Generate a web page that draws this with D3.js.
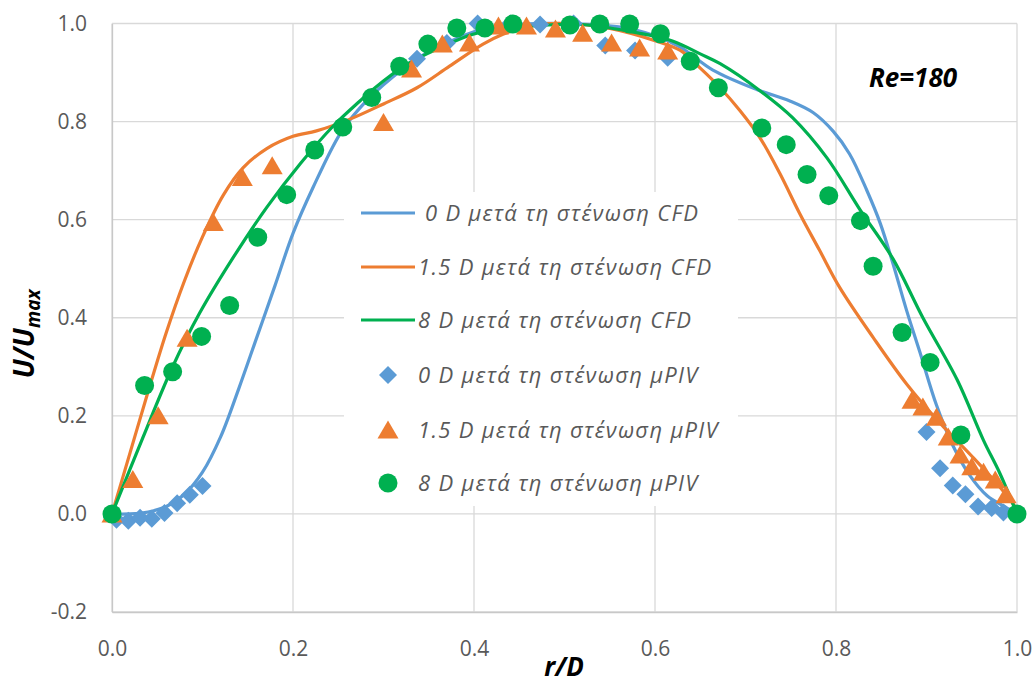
<!DOCTYPE html>
<html>
<head>
<meta charset="utf-8">
<script src="https://cdn.jsdelivr.net/npm/d3@7"></script>
<style>
  body { margin: 0; background: #fff; }
  svg text { font-family: "Open Sans", "Noto Sans", sans-serif; }
</style>
</head>
<body>
<div id="chart"></div>
<script>
// velocity profiles U/Umax vs r/D, Re=180

var cfd0 = [[0,0],[0.02,0.0],[0.04,0.004],[0.06,0.015],[0.08,0.04],[0.1,0.085],[0.12,0.157],
  [0.14,0.255],[0.16,0.36],[0.18,0.465],[0.2,0.572],[0.222,0.665],[0.252,0.775],[0.274,0.828],[0.3,0.875],
  [0.337,0.928],[0.37,0.96],[0.4,0.983],[0.44,0.997],[0.5,1.0],[0.56,0.993],[0.6,0.975],[0.628,0.952],
  [0.664,0.905],[0.713,0.865],[0.749,0.842],[0.775,0.818],[0.797,0.78],[0.815,0.734],[0.834,0.66],
  [0.849,0.592],[0.863,0.51],[0.878,0.415],[0.893,0.328],[0.911,0.222],[0.929,0.14],[0.948,0.078],
  [0.967,0.037],[0.989,0.012],[1.0,0.0]];

var cfd15 = [[0,0],[0.02,0.125],[0.04,0.25],[0.06,0.37],[0.08,0.475],[0.1,0.565],
  [0.123,0.65],[0.145,0.706],[0.171,0.745],[0.2,0.77],[0.226,0.781],[0.263,0.805],[0.3,0.836],[0.337,0.869],
  [0.373,0.913],[0.41,0.958],[0.432,0.978],[0.46,0.995],[0.5,1.0],[0.55,0.99],[0.6,0.965],[0.628,0.945],
  [0.65,0.909],[0.672,0.869],[0.694,0.822],[0.716,0.767],[0.738,0.694],[0.76,0.612],[0.782,0.537],
  [0.804,0.462],[0.841,0.36],[0.878,0.265],[0.915,0.185],[0.951,0.116],[0.981,0.055],[1.0,0.01]];

var cfd8 = [[0,0],[0.034,0.155],[0.067,0.3],[0.097,0.41],[0.134,0.523],[0.171,0.625],[0.208,0.714],
  [0.244,0.79],[0.274,0.842],[0.288,0.865],[0.326,0.917],[0.362,0.95],[0.399,0.978],[0.436,0.991],
  [0.473,0.996],[0.52,0.998],[0.583,0.98],[0.62,0.964],[0.65,0.938],[0.672,0.918],[0.716,0.863],
  [0.752,0.808],[0.79,0.726],[0.827,0.619],[0.863,0.52],[0.896,0.4],[0.934,0.273],[0.963,0.15],
  [0.981,0.083],[1.0,0.0]];

var piv0 = [[0.005,-0.012],[0.018,-0.014],[0.031,-0.008],[0.044,-0.01],[0.058,0.002],[0.072,0.022],
  [0.086,0.039],[0.1,0.057],
  [0.337,0.928],[0.37,0.96],[0.404,1.0],[0.44,1.0],[0.473,0.998],[0.51,1.0],[0.545,0.955],[0.578,0.945],
  [0.614,0.93],
  [0.9,0.167],[0.915,0.093],[0.929,0.058],[0.943,0.04],[0.957,0.015],[0.972,0.012],[0.985,0.003]];

var piv15 = [[0.0,0.0],[0.023,0.07],[0.051,0.2],[0.083,0.358],[0.112,0.594],[0.144,0.686],[0.177,0.71],
  [0.3,0.798],[0.331,0.907],[0.365,0.958],[0.395,0.96],[0.427,0.995],[0.458,0.995],[0.49,0.989],[0.52,0.98],
  [0.552,0.96],[0.583,0.95],[0.614,0.944],
  [0.884,0.232],[0.896,0.218],[0.911,0.197],[0.924,0.157],[0.937,0.12],[0.95,0.096],[0.963,0.085],
  [0.976,0.069],[0.988,0.039]];

var piv8 = [[0.0,0.0],[0.036,0.262],[0.067,0.29],[0.099,0.362],[0.13,0.425],[0.161,0.564],[0.193,0.651],
  [0.224,0.742],[0.255,0.789],[0.287,0.849],[0.318,0.913],[0.349,0.958],[0.381,0.991],[0.412,0.991],
  [0.443,0.999],[0.506,0.997],[0.539,0.999],[0.572,0.999],[0.606,0.979],[0.639,0.923],[0.67,0.869],
  [0.718,0.787],[0.745,0.753],[0.768,0.692],[0.792,0.649],[0.827,0.598],[0.841,0.505],[0.873,0.37],
  [0.904,0.309],[0.938,0.161],[1.0,0.0]];

var xTicks = [0, 0.2, 0.4, 0.6, 0.8, 1.0];
var yTicks = [-0.2, 0, 0.2, 0.4, 0.6, 0.8, 1.0];

var legendNames = [" 0 D μετά τη στένωση CFD", "1.5 D μετά τη στένωση CFD", "8 D μετά τη στένωση CFD",
  "0 D μετά τη στένωση μPIV", "1.5 D μετά τη στένωση μPIV", "8 D μετά τη στένωση μPIV"];

var blue = "#5B9BD5", orange = "#ED7D31", green = "#00B050";

var width = 1035, height = 683;
var plotLeft = 112, plotRight = 1017, plotTop = 23.5, plotBottom = 612;

var svg = d3.select("#chart").append("svg")
    .attr("width", width)
    .attr("height", height);

var x = d3.scaleLinear().domain([0, 1]).range([plotLeft, plotRight]);
var y = d3.scaleLinear().domain([-0.2, 1]).range([plotBottom, plotTop]);

// grid
svg.append("g").selectAll("line")
    .data(yTicks).enter().append("line")
      .attr("x1", plotLeft).attr("x2", plotRight)
      .attr("y1", d => y(d)).attr("y2", d => y(d))
      .style("stroke", "#d9d9d9").style("stroke-width", 1.3);

svg.append("g").selectAll("line")
    .data(xTicks).enter().append("line")
      .attr("x1", d => x(d)).attr("x2", d => x(d))
      .attr("y1", plotTop).attr("y2", plotBottom)
      .style("stroke", "#d9d9d9").style("stroke-width", 1.3);

// axes
var fmt = d3.format(".1f");
var xAxis = svg.append("g")
    .attr("transform", "translate(0," + plotBottom + ")")
    .call(d3.axisBottom(x).tickValues(xTicks).tickFormat(fmt).tickSize(0).tickPadding(29));
var yAxis = svg.append("g")
    .attr("transform", "translate(" + plotLeft + ",0)")
    .call(d3.axisLeft(y).tickValues(yTicks).tickFormat(function (d) { return fmt(d).replace("−", "-"); })
      .tickSize(0).tickPadding(25));

[xAxis, yAxis].forEach(function (a) {
    a.select(".domain").style("stroke", "#c8c8c8").style("stroke-width", 1.3);
    a.selectAll("text")
        .style("font-size", "21px")
        .style("fill", "#595959")
        .style("font-family", "'Open Sans', sans-serif");
});

// lines
var line = d3.line()
    .x(function (d) { return x(d[0]); })
    .y(function (d) { return y(d[1]); })
    .curve(d3.curveCatmullRom.alpha(0.5));

var lineSeries = [[cfd0, blue], [cfd15, orange], [cfd8, green]];
svg.append("g").selectAll("path")
    .data(lineSeries).enter().append("path")
      .attr("d", function (d) { return line(d[0]); })
      .style("fill", "none")
      .style("stroke", function (d) { return d[1]; })
      .style("stroke-width", 3.2)
      .style("stroke-linejoin", "round");

// marker shapes
var diamond = "M0,-9L9,0L0,9L-9,0Z";
var triangle = "M0,-9.5L10.5,8.5L-10.5,8.5Z";

svg.append("g").selectAll("path")
    .data(piv0).enter().append("path")
      .attr("d", diamond)
      .attr("transform", function (d) { return "translate(" + x(d[0]) + "," + y(d[1]) + ")"; })
      .style("fill", blue);

svg.append("g").selectAll("path")
    .data(piv15).enter().append("path")
      .attr("d", triangle)
      .attr("transform", function (d) { return "translate(" + x(d[0]) + "," + y(d[1]) + ")"; })
      .style("fill", orange);

svg.append("g").selectAll("circle")
    .data(piv8).enter().append("circle")
      .attr("cx", function (d) { return x(d[0]); })
      .attr("cy", function (d) { return y(d[1]); })
      .attr("r", 9.5)
      .style("fill", green);

// legend
var legend = svg.append("g");
legend.append("rect")
    .attr("x", 344).attr("y", 192)
    .attr("width", 394).attr("height", 314)
    .style("fill", "#fff");

var rowY = [213, 267, 320, 375, 430, 483];
var legendColors = [blue, orange, green, blue, orange, green];

var rows = legend.selectAll("g.row")
    .data(legendNames).enter().append("g")
      .attr("transform", function (d, i) { return "translate(0," + rowY[i] + ")"; });

rows.each(function (d, i) {
    var g = d3.select(this);
    if (i < 3) {
        g.append("line")
            .attr("x1", 361).attr("x2", 415)
            .style("stroke", legendColors[i]).style("stroke-width", 3.2);
    } else if (i == 3) {
        g.append("path").attr("d", diamond).attr("transform", "translate(388,0)").style("fill", blue);
    } else if (i == 4) {
        g.append("path").attr("d", triangle).attr("transform", "translate(388,0)").style("fill", orange);
    } else {
        g.append("circle").attr("cx", 388).attr("r", 9.5).style("fill", green);
    }
    g.append("text")
        .attr("x", 418)
        .attr("dy", "0.36em")
        .style("white-space", "pre")
        .style("font-size", "22px")
        .style("letter-spacing", "1.3px")
        .style("font-style", "italic")
        .style("fill", "#595959")
        .text(d);
});

// titles
svg.append("text")
    .attr("x", 564).attr("y", 676)
    .attr("text-anchor", "middle")
    .style("font-size", "26px").style("font-weight", "bold").style("font-style", "italic")
    .text("r/D");

var yTitle = svg.append("text")
    .attr("transform", "translate(34,334) rotate(-90)")
    .attr("text-anchor", "middle")
    .style("font-size", "28px").style("font-weight", "bold").style("font-style", "italic");
yTitle.append("tspan").text("U/U");
yTitle.append("tspan").attr("dy", 6).style("font-size", "19px").text("max");

svg.append("text")
    .attr("x", 913).attr("y", 87)
    .attr("text-anchor", "middle")
    .style("font-size", "26px").style("font-weight", "bold").style("font-style", "italic")
    .text("Re=180");
</script>
</body>
</html>
